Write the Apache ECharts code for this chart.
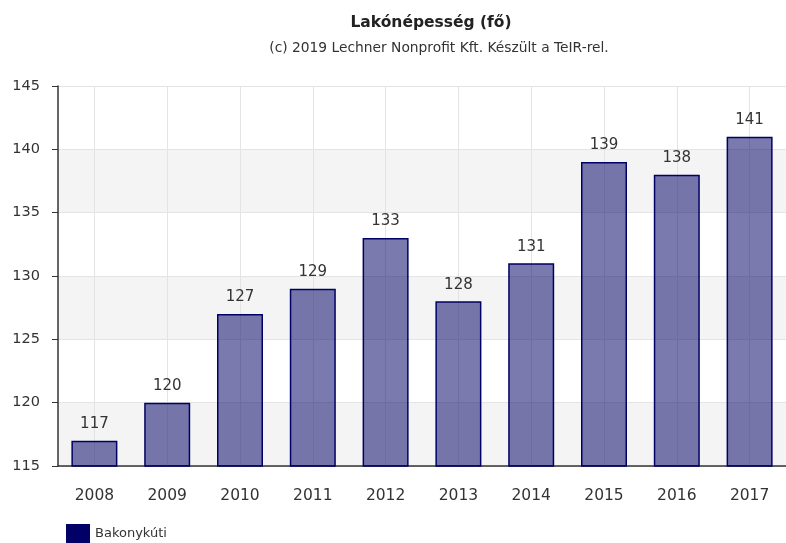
<!DOCTYPE html>
<html lang="hu">
  <head>
    <meta charset="UTF-8" />
    <title>Lakónépesség</title>
    <script src="https://cdn.jsdelivr.net/npm/echarts/dist/echarts.min.js"></script>
    <style>
      body {
        margin: 0;
        background: #fff;
      }
      #chart {
        width: 786px;
        height: 543px;
      }
    </style>
  </head>
  <body>
    <div id="chart"></div>

    <script>
      // adatok
      var years = ["2008", "2009", "2010", "2011", "2012", "2013", "2014", "2015", "2016", "2017"];
      var population = [117, 120, 127, 129, 133, 128, 131, 139, 138, 141];
      var seriesName = "Bakonykúti";

      var chart = echarts.init(document.getElementById("chart"));
      var font = "DejaVu Sans, Verdana, sans-serif";

      var option = {
        animation: false,
        title: [
          {
            text: "Lakónépesség (fő)",
            left: 426,
            top: 10,
            textAlign: "center",
            textStyle: { fontFamily: font, fontSize: 15.5, fontWeight: "bold", color: "#222" },
          },
          {
            text: "(c) 2019 Lechner Nonprofit Kft. Készült a TeIR-rel.",
            left: 434,
            top: 36,
            textAlign: "center",
            textStyle: { fontFamily: font, fontSize: 13.8, fontWeight: "normal", color: "#333" },
          },
        ],
        legend: {
          data: [{ name: seriesName, itemStyle: { color: "#000066", opacity: 1, borderWidth: 0 } }],
          left: 61,
          top: 519,
          icon: "rect",
          itemWidth: 24,
          itemHeight: 20,
          itemGap: 6,
          textStyle: { fontFamily: font, fontSize: 13, color: "#333" },
        },
        grid: {
          left: 58,
          top: 86,
          width: 735,
          height: 380,
        },
        xAxis: {
          type: "category",
          data: years,
          axisLine: { lineStyle: { color: "#333", width: 1.5 } },
          axisTick: { alignWithLabel: true, length: 6, lineStyle: { color: "#333" } },
          axisLabel: { fontFamily: font, fontSize: 15.5, color: "#333", margin: 22 },
          splitLine: { show: false },
        },
        yAxis: {
          type: "value",
          min: 115,
          max: 145,
          interval: 5,
          axisLine: { show: true, lineStyle: { color: "#333", width: 1.5 } },
          axisTick: { show: true, length: 6, lineStyle: { color: "#333" } },
          axisLabel: { fontFamily: font, fontSize: 14.5, color: "#333", margin: 18 },
          splitLine: { lineStyle: { color: "#e4e4e4" } },
          splitArea: { show: true, areaStyle: { color: ["#f4f4f4", "rgba(255,255,255,0)"] } },
        },
        series: [
          {
            // függőleges rácsvonalak a kategóriák közepén
            type: "line",
            name: "grid",
            data: [],
            z: 1,
            silent: true,
            markLine: {
              silent: true,
              z: 1,
              symbol: "none",
              label: { show: false },
              lineStyle: { color: "#e4e4e4", type: "solid", width: 1 },
              data: years.map(function (y) {
                return { xAxis: y };
              }),
            },
          },
          {
            type: "bar",
            name: seriesName,
            data: population,
            barWidth: 46,
            z: 3,
            itemStyle: {
              color: "rgba(0,0,102,0.52)",
              borderColor: "#000066",
              borderWidth: 1.5,
            },
            label: {
              show: true,
              position: "top",
              distance: 9,
              fontFamily: font,
              fontSize: 15,
              color: "#333",
            },
          },
        ],
      };

      chart.setOption(option);
    </script>
  </body>
</html>
